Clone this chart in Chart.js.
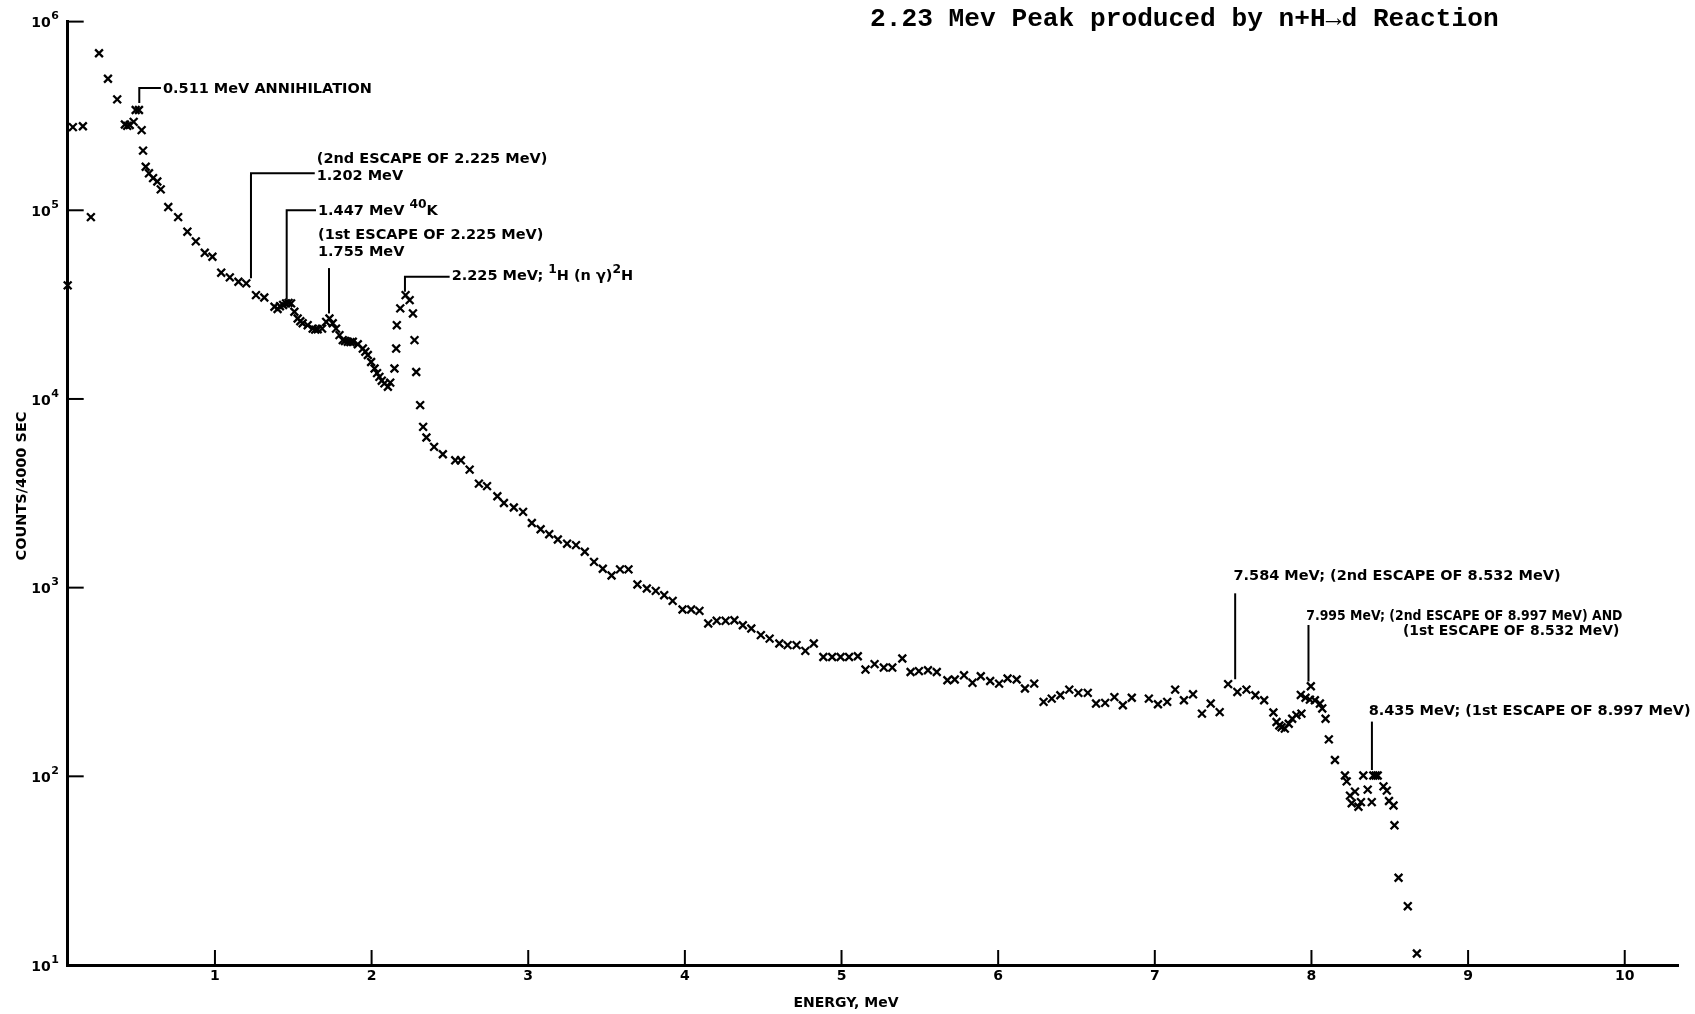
<!DOCTYPE html>
<html>
<head>
<meta charset="utf-8">
<title>2.23 MeV Peak produced by n+H→d Reaction</title>
<script src="https://cdn.jsdelivr.net/npm/chart.js@4.4.1/dist/chart.umd.min.js"></script>
<style>
  html, body { margin: 0; padding: 0; background: #fff; }
  canvas { display: block; }
</style>
</head>
<body>
<canvas id="spectrum" width="1695" height="1014"></canvas>
<script>
// energy (MeV) and counts per 4000 sec
var energy = [
  0.06, 0.093, 0.157, 0.208, 0.26, 0.317, 0.376, 0.425, 0.44, 0.456,
  0.481, 0.494, 0.515, 0.532, 0.541, 0.558, 0.579, 0.605, 0.632, 0.654,
  0.702, 0.765, 0.824, 0.878, 0.935, 0.984, 1.04, 1.095, 1.15, 1.20,
  1.262, 1.315, 1.38, 1.40, 1.415, 1.435, 1.454, 1.47, 1.486, 1.507,
  1.528, 1.545, 1.56, 1.592, 1.624, 1.64, 1.656, 1.684, 1.71, 1.731,
  1.752, 1.773, 1.795, 1.816, 1.83, 1.848, 1.865, 1.88, 1.912, 1.944,
  1.96, 1.976, 1.997, 2.019, 2.035, 2.05, 2.065, 2.082, 2.104, 2.119,
  2.146, 2.157, 2.161, 2.183, 2.217, 2.243, 2.264, 2.274, 2.285, 2.31,
  2.329, 2.35, 2.399, 2.455, 2.534, 2.57, 2.626, 2.685, 2.737, 2.803,
  2.845, 2.908, 2.967, 3.023, 3.079, 3.134, 3.189, 3.248, 3.305, 3.361,
  3.42, 3.476, 3.532, 3.586, 3.64, 3.697, 3.757, 3.814, 3.868, 3.922,
  3.985, 4.04, 4.093, 4.149, 4.203, 4.26, 4.316, 4.37, 4.424, 4.485,
  4.541, 4.603, 4.656, 4.713, 4.769, 4.823, 4.884, 4.94, 4.994, 5.048,
  5.104, 5.153, 5.211, 5.27, 5.324, 5.388, 5.441, 5.494, 5.552, 5.608,
  5.676, 5.723, 5.782, 5.836, 5.889, 5.949, 6.006, 6.06, 6.118, 6.171,
  6.23, 6.29, 6.342, 6.397, 6.454, 6.512, 6.572, 6.625, 6.683, 6.742,
  6.796, 6.853, 6.962, 7.02, 7.079, 7.13, 7.186, 7.244, 7.301, 7.357,
  7.414, 7.468, 7.527, 7.585, 7.642, 7.698, 7.757, 7.777, 7.795, 7.809,
  7.83, 7.855, 7.877, 7.904, 7.932, 7.936, 7.962, 7.99, 7.996, 8.022,
  8.054, 8.069, 8.09, 8.111, 8.15, 8.214, 8.225, 8.246, 8.257, 8.278,
  8.3, 8.316, 8.331, 8.359, 8.385, 8.395, 8.41, 8.423, 8.46, 8.481,
  8.495, 8.524, 8.53, 8.556, 8.615, 8.673
];
var counts = [
  40000, 276000, 279000, 92000, 680000, 498000, 387000, 285000, 280000, 283000,
  294000, 340000, 340000, 266000, 207000, 170000, 157000, 148000, 142000, 129000,
  104000, 92000, 77000, 68400, 59500, 56700, 46700, 44100, 41800, 41000,
  35500, 34500, 30800, 30000, 31000, 31500, 32100, 32300, 32100, 29000,
  26700, 25800, 25200, 24600, 23600, 23300, 23400, 23600, 25600, 26700,
  25200, 23600, 21800, 20500, 20300, 20100, 20000, 20100, 19500, 18500,
  17800, 17100, 15700, 14500, 13700, 13100, 12500, 12100, 11600, 12200,
  14500, 18500, 24600, 30200, 35500, 33400, 28400, 20500, 13900, 9270,
  7110, 6250, 5570, 5090, 4730, 4730, 4220, 3560, 3450, 3050,
  2810, 2660, 2520, 2200, 2040, 1920, 1800, 1710, 1680, 1550,
  1370, 1260, 1160, 1250, 1250, 1040, 990, 961, 912, 851,
  766, 766, 753, 646, 667, 667, 672, 632, 607, 560,
  537, 506, 496, 496, 462, 506, 429, 429, 429, 429,
  433, 368, 393, 377, 377, 421, 357, 361, 365, 357,
  323, 326, 343, 313, 339, 320, 310, 330, 326, 292,
  310, 248, 258, 269, 288, 277, 277, 243, 245, 263,
  238, 261, 258, 241, 248, 288, 253, 272, 215, 243,
  219, 308, 280, 288, 269, 253, 218, 194, 186, 182,
  179, 190, 202, 211, 270, 215, 261, 255, 300, 253,
  243, 229, 202, 157, 122, 101, 94, 79, 72, 83,
  69, 73, 101, 85, 73, 101, 101, 101, 88.5, 84,
  74, 70, 55, 29, 20.5, 11.5
];

var xTicks = [1, 2, 3, 4, 5, 6, 7, 8, 9, 10];
var yTicks = [1e1, 1e2, 1e3, 1e4, 1e5, 1e6];

// peak labels: leader line at energy e from counts lo to hi, text at (tx, ty)
var notes = [
  { e: 0.517, lo: 3.7e5, hi: 4.45e5, tx: 0.668, ty: 4.4e5, link: true, anchor: 0,
    lines: ['0.511 MeV ANNIHILATION'] },
  { e: 1.23, lo: 4.36e4, hi: 1.57e5, tx: 1.65, ty: 1.52e5, link: true, anchor: 1,
    lines: ['(2nd ESCAPE OF 2.225 MeV)', '1.202 MeV'] },
  { e: 1.458, lo: 3.37e4, hi: 1.0e5, tx: 1.658, ty: 9.9e4, link: true, anchor: 0,
    lines: ['1.447 MeV ^{40}K'] },
  { e: 1.728, lo: 2.84e4, hi: 4.94e4, tx: 1.658, ty: 5.96e4, link: false, anchor: 1,
    lines: ['(1st ESCAPE OF 2.225 MeV)', '1.755 MeV'] },
  { e: 2.213, lo: 3.7e4, hi: 4.45e4, tx: 2.511, ty: 4.45e4, link: true, anchor: 0,
    lines: ['2.225 MeV; ^{1}H (n \u03b3)^{2}H'] },
  { e: 7.513, lo: 327, hi: 933, tx: 7.502, ty: 1143, link: false, anchor: 0,
    lines: ['7.584 MeV; (2nd ESCAPE OF 8.532 MeV)'] },
  { e: 7.981, lo: 318, hi: 634, tx: 7.967, ty: 702, link: false, anchor: 0, gap: 15,
    indent: '7.995 MeV; ', squeeze: [0.86, 0.96],
    lines: ['7.995 MeV; (2nd ESCAPE OF 8.997 MeV) AND', '(1st ESCAPE OF 8.532 MeV)'] },
  { e: 8.386, lo: 108, hi: 195, tx: 8.365, ty: 220, link: false, anchor: 0,
    lines: ['8.435 MeV; (1st ESCAPE OF 8.997 MeV)'] }
];

var FONT = '"DejaVu Sans", sans-serif';

// text with ^{...} superscripts
function drawRich(ctx, str, x, y, size) {
  var re = /\^\{([^}]*)\}/g, last = 0, m, parts = [];
  while ((m = re.exec(str))) {
    if (m.index > last) parts.push([str.slice(last, m.index), false]);
    parts.push([m[1], true]);
    last = re.lastIndex;
  }
  if (last < str.length) parts.push([str.slice(last), false]);
  var cx = x;
  parts.forEach(function(p) {
    ctx.font = 'bold ' + (p[1] ? size * 0.85 : size) + 'px ' + FONT;
    ctx.fillText(p[0], cx, p[1] ? y - size * 0.45 : y);
    cx += ctx.measureText(p[0]).width;
  });
}

var decorations = {
  id: 'decorations',
  afterDatasetsDraw: function(chart) {
    var ctx = chart.ctx, xs = chart.scales.x, ys = chart.scales.y, area = chart.chartArea;
    ctx.save();
    ctx.strokeStyle = '#000';
    ctx.fillStyle = '#000';
    ctx.lineWidth = 2;

    // inward tick marks
    ys.ticks.forEach(function(t) {
      var py = ys.getPixelForValue(t.value);
      ctx.beginPath(); ctx.moveTo(area.left, py); ctx.lineTo(area.left + 16, py); ctx.stroke();
    });
    xs.ticks.forEach(function(t) {
      var px = xs.getPixelForValue(t.value);
      ctx.beginPath(); ctx.moveTo(px, area.bottom); ctx.lineTo(px, area.bottom - 15); ctx.stroke();
    });

    // y tick labels 10^n
    ctx.textBaseline = 'middle';
    ys.ticks.forEach(function(t) {
      var py = ys.getPixelForValue(t.value);
      var n = Math.round(Math.log10(t.value));
      ctx.font = 'bold 14px ' + FONT;
      ctx.textAlign = 'right';
      ctx.fillText('10', area.left - 17, py + 2);
      ctx.font = 'bold 11px ' + FONT;
      ctx.textAlign = 'left';
      ctx.fillText(String(n), area.left - 16.5, py - 5);
    });

    // axis titles
    ctx.textAlign = 'center';
    ctx.font = 'bold 14px ' + FONT;
    ctx.fillText('ENERGY, MeV', 846, 1003);
    ctx.save();
    ctx.translate(22.7, 486);
    ctx.rotate(-Math.PI / 2);
    ctx.font = 'bold 14.5px ' + FONT;
    ctx.fillText('COUNTS/4000 SEC', 0, 0);
    ctx.restore();

    // peak labels
    ctx.textAlign = 'left';
    notes.forEach(function(n) {
      var px = xs.getPixelForValue(n.e);
      var pLo = ys.getPixelForValue(n.lo), pHi = ys.getPixelForValue(n.hi);
      var tx = xs.getPixelForValue(n.tx), ty = ys.getPixelForValue(n.ty);
      ctx.beginPath();
      ctx.moveTo(px, pLo);
      ctx.lineTo(px, pHi);
      if (n.link) ctx.lineTo(tx - 2, pHi);
      ctx.stroke();
      var gap = n.gap || 17;
      n.lines.forEach(function(line, i) {
        var lx = tx;
        if (i > 0 && n.indent) {
          ctx.font = 'bold 14.5px ' + FONT;
          lx = tx + ctx.measureText(n.indent).width;
        }
        var sq = n.squeeze ? n.squeeze[i] : 1;
        ctx.save();
        ctx.translate(lx, ty + (i - n.anchor) * gap);
        ctx.scale(sq, 1);
        drawRich(ctx, line, 0, 0, 14.5);
        ctx.restore();
      });
    });

    // heading
    ctx.textBaseline = 'alphabetic';
    ctx.font = 'bold 26.2px "Liberation Mono", "DejaVu Sans Mono", monospace';
    ctx.fillText('2.23 Mev Peak produced by n+H\u2192d Reaction', 870, 26);
    ctx.restore();
  }
};

var points = energy.map(function(e, i) { return { x: e, y: counts[i] }; });

new Chart(document.getElementById('spectrum').getContext('2d'), {
  type: 'scatter',
  data: {
    datasets: [{
      data: points,
      pointStyle: 'crossRot',
      pointRadius: 5.5,
      pointHoverRadius: 5.5,
      borderColor: '#000',
      backgroundColor: '#000',
      borderWidth: 2.3,
      clip: false
    }]
  },
  options: {
    responsive: false,
    animation: false,
    devicePixelRatio: 1,
    layout: { padding: { top: 21.6, right: 17, left: 0, bottom: 0 } },
    plugins: {
      legend: { display: false },
      tooltip: { enabled: false }
    },
    scales: {
      x: {
        type: 'linear',
        min: 0.06,
        max: 10.34,
        afterBuildTicks: function(s) { s.ticks = xTicks.map(function(v) { return { value: v }; }); },
        afterFit: function(s) { s.height = 49; },
        grid: { display: false, drawTicks: false },
        border: { display: true, color: '#000', width: 3 },
        ticks: {
          color: '#000',
          padding: 3,
          maxRotation: 0,
          autoSkip: false,
          font: { family: FONT, weight: 'bold', size: 14 },
          callback: function(v) { return String(v); }
        }
      },
      y: {
        type: 'logarithmic',
        min: 10,
        max: 1e6,
        afterBuildTicks: function(s) { s.ticks = yTicks.map(function(v) { return { value: v }; }); },
        afterFit: function(s) { s.width = 67.7; },
        grid: { display: false, drawTicks: false },
        border: { display: true, color: '#000', width: 3 },
        ticks: { display: false }
      }
    }
  },
  plugins: [decorations]
});
</script>
</body>
</html>
